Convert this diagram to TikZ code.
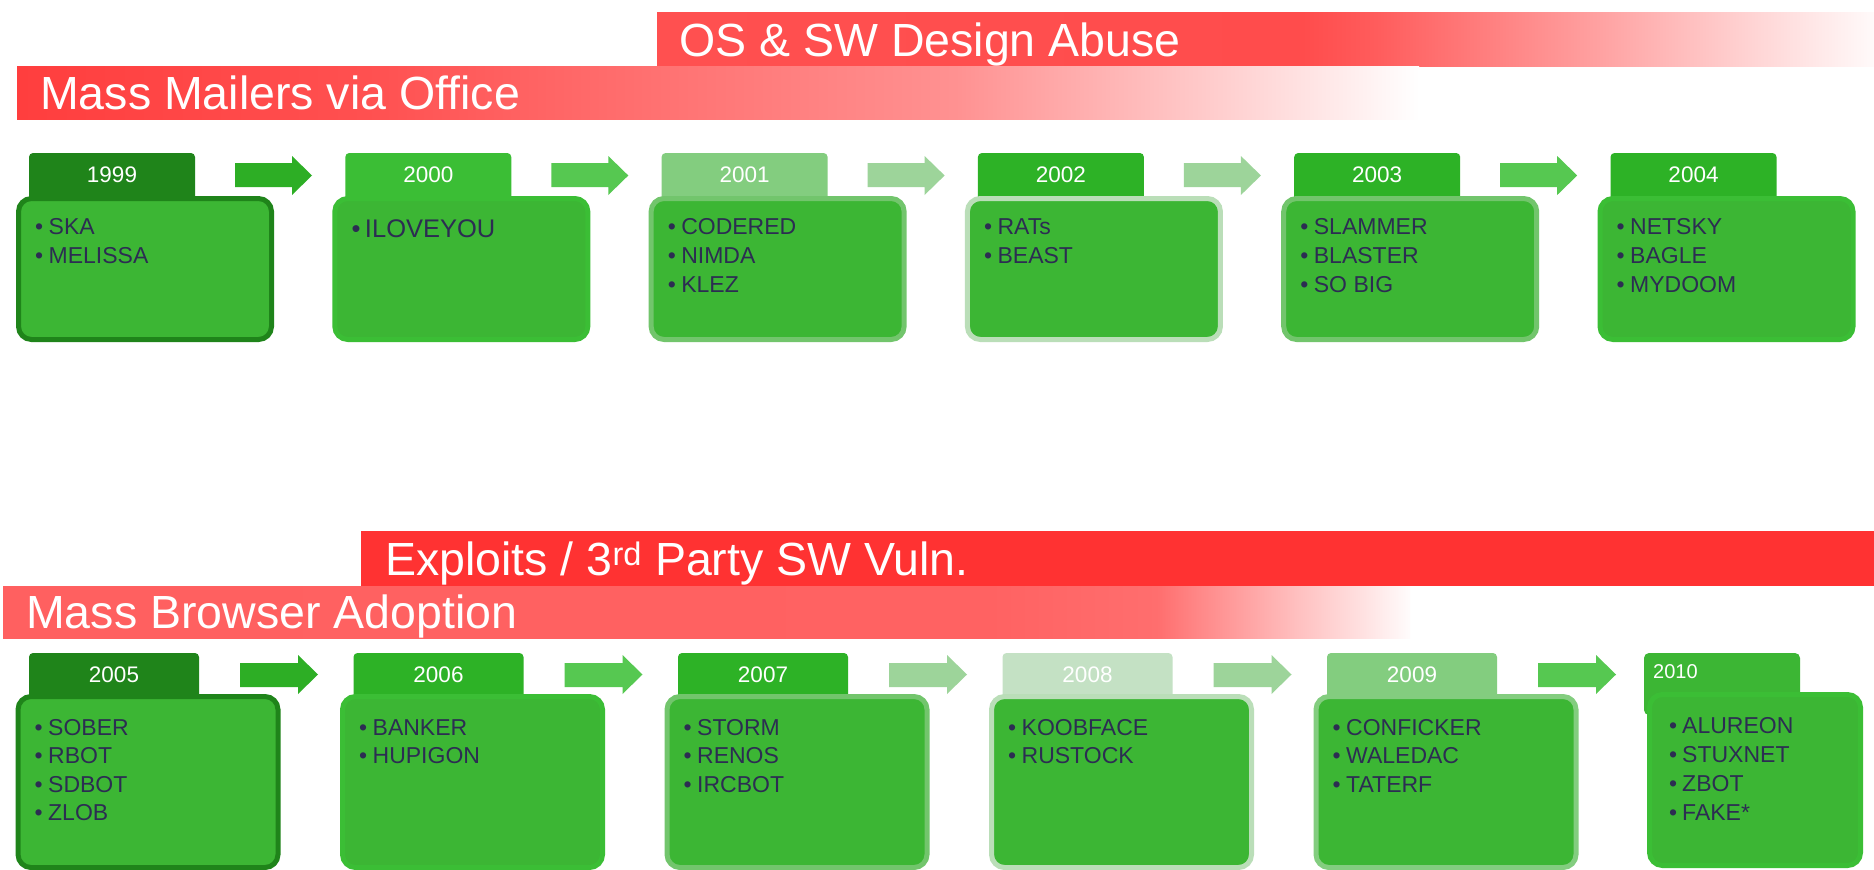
\documentclass[tikz,border=0pt]{standalone}
\usepackage{fontspec}
\setmainfont{Liberation Sans}
\usetikzlibrary{calc}

% greens
\definecolor{gDark}{RGB}{31,132,26}
\definecolor{gMid}{RGB}{45,178,38}
\definecolor{gBright}{RGB}{59,190,53}
\definecolor{gLight}{RGB}{131,205,127}
\definecolor{gPale}{RGB}{196,225,196}
\definecolor{gBodyFill}{RGB}{60,182,52}
\definecolor{gEdgeLight}{RGB}{114,197,108}
\definecolor{gEdgePale}{RGB}{186,222,184}
\definecolor{arrDark}{RGB}{45,174,37}
\definecolor{arrMid}{RGB}{86,200,81}
\definecolor{arrPale}{RGB}{157,212,154}
\definecolor{itemInk}{RGB}{44,45,82}
\definecolor{barRed}{RGB}{255,50,50}

% fading title banners (the 25bp--75bp band spans the filled path)
\pgfdeclarehorizontalshading{mailfade}{100bp}{%
  rgb(0bp)=(1,0.243,0.243); rgb(25bp)=(1,0.243,0.243);
  rgb(37.5bp)=(1,0.314,0.314); rgb(47.5bp)=(1,0.44,0.44);
  rgb(58.5bp)=(1,0.57,0.57); rgb(67bp)=(1,0.784,0.784);
  rgb(72.5bp)=(1,0.93,0.93); rgb(75bp)=(1,1,1); rgb(100bp)=(1,1,1)}
\pgfdeclarehorizontalshading{osfade}{100bp}{%
  rgb(0bp)=(1,0.314,0.314); rgb(25bp)=(1,0.314,0.314);
  rgb(51.5bp)=(1,0.298,0.298); rgb(54.5bp)=(1,0.36,0.36);
  rgb(57.5bp)=(1,0.45,0.45); rgb(63.5bp)=(1,0.627,0.627);
  rgb(69.5bp)=(1,0.816,0.816); rgb(75bp)=(1,0.98,0.98); rgb(100bp)=(1,0.98,0.98)}
\pgfdeclarehorizontalshading{browsefade}{100bp}{%
  rgb(0bp)=(1,0.376,0.376); rgb(25bp)=(1,0.376,0.376);
  rgb(60bp)=(1,0.384,0.384); rgb(66bp)=(1,0.431,0.431);
  rgb(67.5bp)=(1,0.533,0.533); rgb(68.75bp)=(1,0.612,0.612);
  rgb(71bp)=(1,0.753,0.753); rgb(73.5bp)=(1,0.894,0.894);
  rgb(75bp)=(1,0.988,0.988); rgb(100bp)=(1,0.988,0.988)}

\begin{document}
\begin{tikzpicture}[x=1pt,y=-1pt,
  title/.style={text=white, inner sep=0pt, anchor=base west,
    font=\fontsize{46.5}{50}\selectfont},
  tabbox/.style={fill=#1, rounded corners=4pt, inner sep=0pt, outer sep=0pt,
    anchor=north west},
  bodybox/.style={draw=#1, fill=gBodyFill, line width=5pt, rounded corners=13pt,
    inner sep=0pt, outer sep=0pt, anchor=north west},
  yearlabel/.style={text=white, inner sep=0pt, anchor=base,
    font=\fontsize{22.5}{24}\selectfont},
  itemlabel/.style={text=itemInk, inner sep=0pt, anchor=base west},
]
\useasboundingbox (0,0) rectangle (1874,870);
\fill[white] (0,0) rectangle (1874,870);

% ---- title banners ----
\path[shading=osfade] (657,12) rectangle (1874,66);
\node[title] (osT) at (679,56) {OS \& SW Design Abuse};
\path[shading=mailfade] (17,66) rectangle (1419,119);
\node[title] (mailT) at (40,109) {Mass Mailers via Office};

\fill[barRed] (361,531) rectangle (1874,586);
\node[title] (expT) at (385,575) {Exploits / 3\textsuperscript{rd} Party SW Vuln.};
\path[shading=browsefade] (3,586) rectangle (1410,638);
\node[title] (brwT) at (26,628) {Mass Browser Adoption};

% ---- 1999--2004 ----
\foreach \yr/\i/\tc/\ec/\ac/\fs/\items in {
  1999/0/gDark/gDark/arrDark/23/{SKA,MELISSA},
  2000/1/gBright/gBright/arrMid/25.5/{ILOVEYOU},
  2001/2/gLight/gEdgeLight/arrPale/23/{CODERED,NIMDA,KLEZ},
  2002/3/gMid/gEdgePale/arrPale/23/{RATs,BEAST},
  2003/4/gMid/gEdgeLight/arrMid/23/{SLAMMER,BLASTER,SO BIG},
  2004/5/gMid/gBright/arrMid/23/{NETSKY,BAGLE,MYDOOM}}{
  \pgfmathsetmacro\tx{29+316.3*\i}
  \pgfmathsetmacro\bx{16+316.3*\i}
  \node[tabbox=\tc, minimum width=166pt, minimum height=60pt] (t\yr) at (\tx,153) {};
  \node[bodybox=\ec, minimum width=253pt, minimum height=141pt] (b\yr) at (\bx+2.5,198.5) {};
  \node[yearlabel] (y\yr) at ($(t\yr.north)+(0,29)$) {\yr};
  \foreach \itm [count=\k] in \items {
    \pgfmathsetmacro\iy{234.5+29*(\k-1)+(\fs-23)}
    \node[itemlabel, font=\fontsize{\fs}{\fs}\selectfont] (i\yr-\k) at (\bx+19,\iy)
      {\makebox[13.5pt][l]{\textbullet}\itm};
  }
  \ifnum\i<5
  \coordinate (a\yr) at ($(t\yr.north east)+(40,0)$);
  \fill[\ac, shift={(a\yr)}] (0,10) -- (57,10) -- (57,3) -- (77,22.5) -- (57,42)
    -- (57,34) -- (0,34) -- cycle;
  \fi
}

% ---- 2005--2009 ----
\foreach \yr/\i/\tc/\ec/\ac/\items in {
  2005/0/gDark/gDark/arrDark/{SOBER,RBOT,SDBOT,ZLOB},
  2006/1/gMid/gBright/arrMid/{BANKER,HUPIGON},
  2007/2/gMid/gEdgeLight/arrPale/{STORM,RENOS,IRCBOT},
  2008/3/gPale/gEdgePale/arrPale/{KOOBFACE,RUSTOCK},
  2009/4/gLight/gLight/arrMid/{CONFICKER,WALEDAC,TATERF}}{
  \pgfmathsetmacro\tx{29+324.5*\i}
  \pgfmathsetmacro\bx{15.5+324.5*\i}
  \node[tabbox=\tc, minimum width=170pt, minimum height=60pt] (t\yr) at (\tx,653) {};
  \node[bodybox=\ec, minimum width=260pt, minimum height=171pt] (b\yr) at (\bx+2.5,696.5) {};
  \node[yearlabel] (y\yr) at ($(t\yr.north)+(0,29)$) {\yr};
  \foreach \itm [count=\k] in \items {
    \pgfmathsetmacro\iy{735+28.5*(\k-1)}
    \node[itemlabel, font=\fontsize{23}{23}\selectfont] (i\yr-\k) at (\bx+19,\iy)
      {\makebox[13.5pt][l]{\textbullet}\itm};
  }
  \coordinate (a\yr) at ($(t\yr.north east)+(41,0)$);
  \fill[\ac, shift={(a\yr)}] (0,10) -- (58,10) -- (58,2) -- (78,21.5) -- (58,41)
    -- (58,34) -- (0,34) -- cycle;
}

% ---- 2010 ----
\node[tabbox=gBodyFill, rounded corners=5pt, minimum width=156pt, minimum height=62pt]
  (t2010) at (1644,653) {};
\node[bodybox=gBright, minimum width=211pt, minimum height=171pt] (b2010) at (1649.5,694.5) {};
\node[text=white, inner sep=0pt, anchor=base west, font=\fontsize{20}{22}\selectfont]
  (y2010) at (1653,678) {2010};
\foreach \itm [count=\k] in {ALUREON,STUXNET,ZBOT,FAKE*} {
  \pgfmathsetmacro\iy{733+29*(\k-1)}
  \node[itemlabel, font=\fontsize{23}{23}\selectfont] (i2010-\k) at (1669,\iy)
    {\makebox[13pt][l]{\textbullet}\itm};
}
\end{tikzpicture}
\end{document}
